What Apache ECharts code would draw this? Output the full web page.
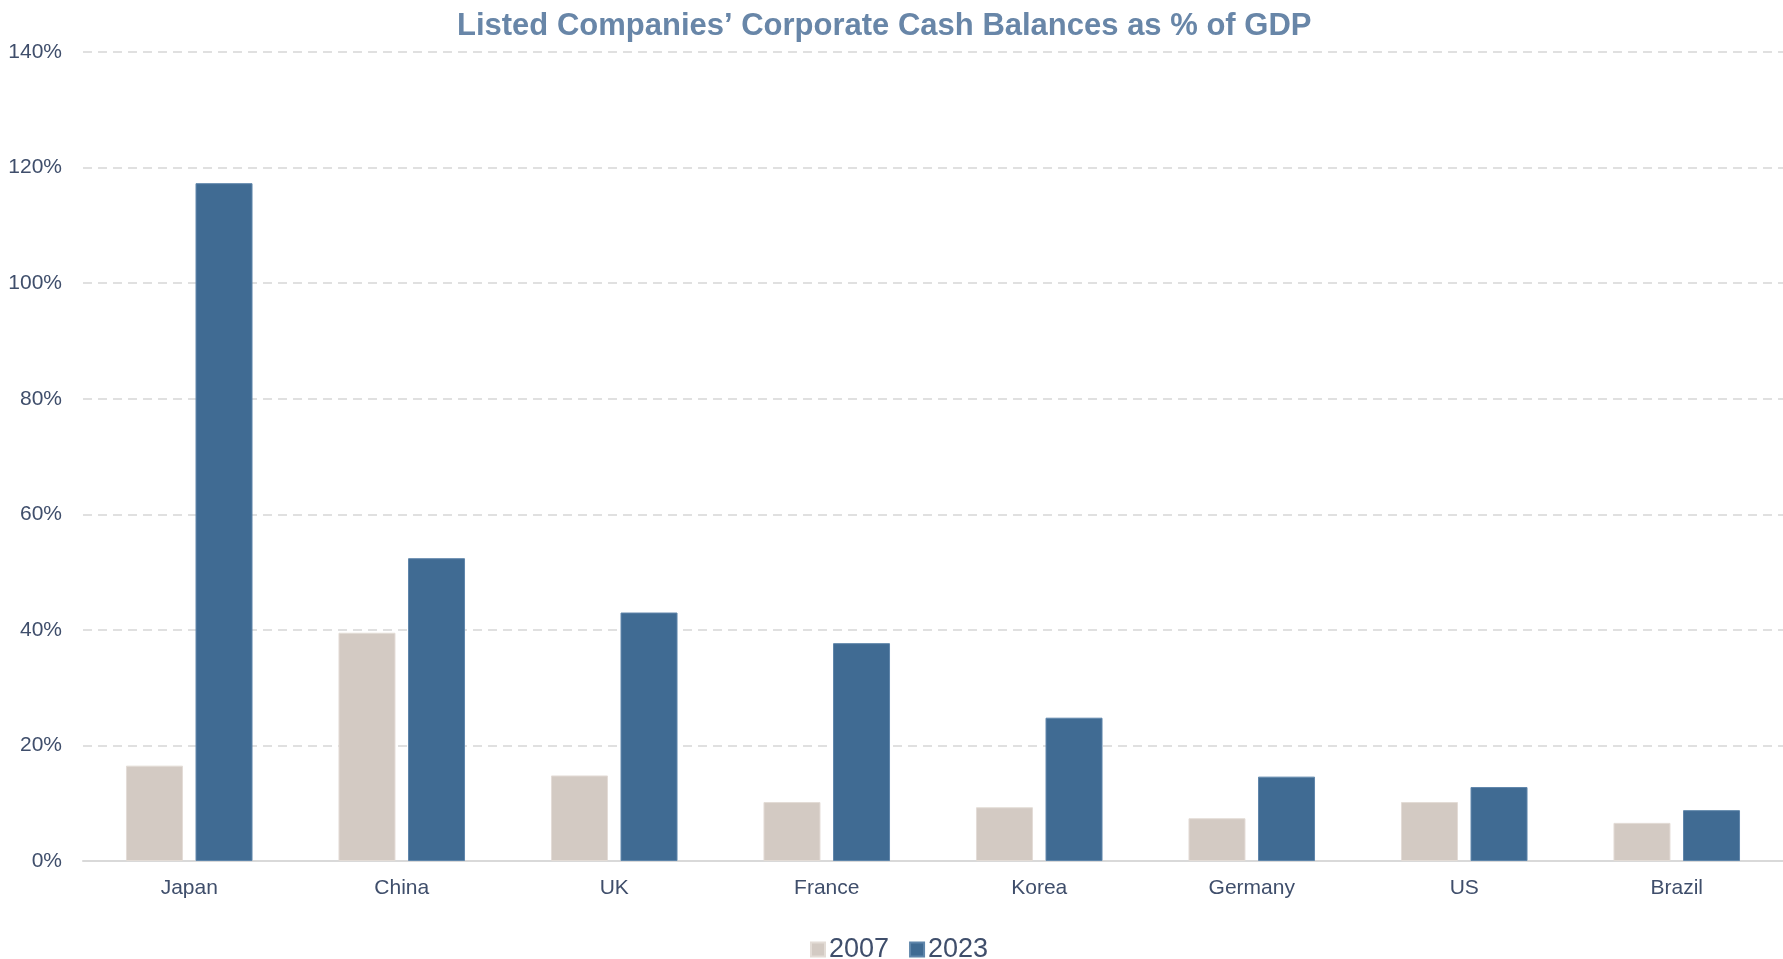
<!DOCTYPE html>
<html>
<head>
<meta charset="utf-8">
<title>Listed Companies’ Corporate Cash Balances as % of GDP</title>
<script src="https://cdn.jsdelivr.net/npm/echarts@6/dist/echarts.min.js"></script>
<style>
  html, body { margin: 0; padding: 0; background: #ffffff; }
  #chart { width: 1783px; height: 959px; }
</style>
</head>
<body>
<div id="chart"></div>
<script>
// Countries on the category axis
const countries = ['Japan', 'China', 'UK', 'France', 'Korea', 'Germany', 'US', 'Brazil'];
// Cash balances as % of GDP
const cash2007 = [16.5, 39.5, 14.8, 10.2, 9.3, 7.4, 10.2, 6.6];
const cash2023 = [117.3, 52.4, 43.0, 37.7, 24.8, 14.6, 12.8, 8.8];
const seriesNames = ['2007', '2023'];
// Value axis ticks
const yMin = 0, yMax = 140, yStep = 20;

const FONT = '"Liberation Sans", Arial, sans-serif';
const TEXT = '#3F4E6B';

const chart = echarts.init(document.getElementById('chart'), null, { renderer: 'canvas' });

chart.setOption({
  backgroundColor: '#ffffff',
  animation: false,
  title: {
    text: 'Listed Companies’ Corporate Cash Balances as % of GDP',
    left: 452,
    top: 6,
    textStyle: { fontFamily: FONT, fontSize: 31, fontWeight: 'bold', color: '#6886A8' }
  },
  legend: {
    data: seriesNames,
    left: 805,
    top: 931,
    icon: 'rect',
    itemWidth: 14,
    itemHeight: 14,
    itemGap: 20,
    textStyle: { fontFamily: FONT, fontSize: 27, color: TEXT, padding: [0, 0, 0, -1] }
  },
  grid: { left: 83, right: 0, top: 52, bottom: 98 },
  xAxis: {
    type: 'category',
    data: countries,
    axisLine: { lineStyle: { color: '#D9D9D9', width: 2 } },
    axisTick: { show: false },
    axisLabel: { fontFamily: FONT, fontSize: 21, color: TEXT, margin: 17 }
  },
  yAxis: {
    type: 'value',
    min: yMin,
    max: yMax,
    interval: yStep,
    axisLine: { show: false },
    axisTick: { show: false },
    axisLabel: { fontFamily: FONT, fontSize: 21, color: TEXT, margin: 21, formatter: '{value}%' },
    splitLine: { lineStyle: { color: '#D6D6D6', type: [9, 6], width: 1.5 } }
  },
  series: [
    {
      name: seriesNames[0],
      type: 'bar',
      data: cash2007,
      barWidth: 57,
      barGap: '22%',
      itemStyle: { color: '#D3CAC3', borderColor: '#E3DCD6', borderWidth: 1 }
    },
    {
      name: seriesNames[1],
      type: 'bar',
      data: cash2023,
      barWidth: 57,
      barGap: '22%',
      itemStyle: { color: '#406B93', borderColor: '#5F86AB', borderWidth: 1 }
    }
  ]
});
</script>
</body>
</html>
